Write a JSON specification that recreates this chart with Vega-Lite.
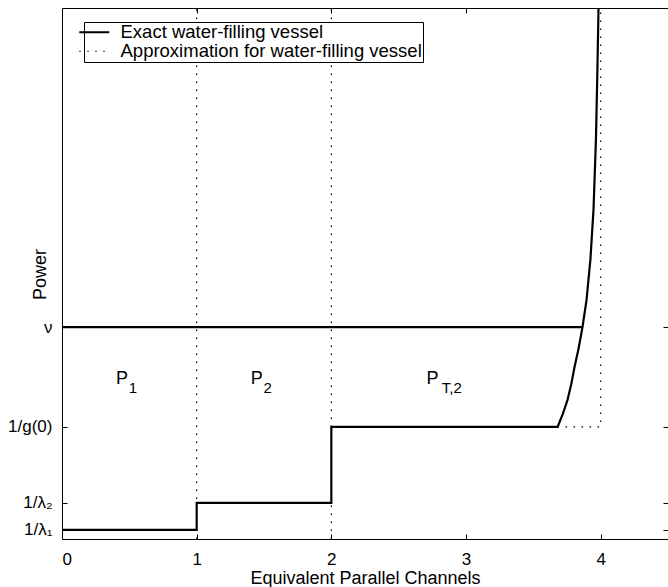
{
  "$schema": "https://vega.github.io/schema/vega-lite/v6.json",
  "width": 606,
  "height": 531,
  "autosize": {"type": "none"},
  "padding": {"left": 62, "top": 8, "right": 0, "bottom": 48},
  "background": "white",
  "config": {
    "view": {"stroke": "black", "strokeWidth": 1},
    "font": "Liberation Sans",
    "axis": {"labelColor": "black", "titleColor": "black", "domainColor": "black", "tickColor": "black", "labelFont": "Liberation Sans", "titleFont": "Liberation Sans", "grid": false}
  },
  "datasets": {
    "lines": [
      {"series": "Approximation for water-filling vessel", "seg": "v1", "i": 0, "x": 1, "y": 0},
      {"series": "Approximation for water-filling vessel", "seg": "v1", "i": 1, "x": 1, "y": 10},
      {"series": "Approximation for water-filling vessel", "seg": "v2", "i": 0, "x": 2, "y": 0},
      {"series": "Approximation for water-filling vessel", "seg": "v2", "i": 1, "x": 2, "y": 10},
      {"series": "Approximation for water-filling vessel", "seg": "v4", "i": 0, "x": 3.68, "y": 2.11},
      {"series": "Approximation for water-filling vessel", "seg": "v4", "i": 1, "x": 4, "y": 2.11},
      {"series": "Approximation for water-filling vessel", "seg": "v4", "i": 2, "x": 4, "y": 10},
      {"series": "Exact water-filling vessel", "seg": "stair", "i": 0, "x": 0, "y": 0.17},
      {"series": "Exact water-filling vessel", "seg": "stair", "i": 1, "x": 1, "y": 0.17},
      {"series": "Exact water-filling vessel", "seg": "stair", "i": 2, "x": 1, "y": 0.68},
      {"series": "Exact water-filling vessel", "seg": "stair", "i": 3, "x": 2, "y": 0.68},
      {"series": "Exact water-filling vessel", "seg": "stair", "i": 4, "x": 2, "y": 2.11},
      {"series": "Exact water-filling vessel", "seg": "stair", "i": 5, "x": 3.68, "y": 2.11},
      {"series": "Exact water-filling vessel", "seg": "stair", "i": 6, "x": 3.718, "y": 2.35},
      {"series": "Exact water-filling vessel", "seg": "stair", "i": 7, "x": 3.754, "y": 2.62},
      {"series": "Exact water-filling vessel", "seg": "stair", "i": 8, "x": 3.782, "y": 2.92},
      {"series": "Exact water-filling vessel", "seg": "stair", "i": 9, "x": 3.806, "y": 3.24},
      {"series": "Exact water-filling vessel", "seg": "stair", "i": 10, "x": 3.837, "y": 3.6},
      {"series": "Exact water-filling vessel", "seg": "stair", "i": 11, "x": 3.865, "y": 3.99},
      {"series": "Exact water-filling vessel", "seg": "stair", "i": 12, "x": 3.895, "y": 4.5},
      {"series": "Exact water-filling vessel", "seg": "stair", "i": 13, "x": 3.924, "y": 5.27},
      {"series": "Exact water-filling vessel", "seg": "stair", "i": 14, "x": 3.947, "y": 6.21},
      {"series": "Exact water-filling vessel", "seg": "stair", "i": 15, "x": 3.965, "y": 7.53},
      {"series": "Exact water-filling vessel", "seg": "stair", "i": 16, "x": 3.976, "y": 8.85},
      {"series": "Exact water-filling vessel", "seg": "stair", "i": 17, "x": 3.984, "y": 10.0},
      {"series": "Exact water-filling vessel", "seg": "nu", "i": 0, "x": 0, "y": 3.99},
      {"series": "Exact water-filling vessel", "seg": "nu", "i": 1, "x": 3.865, "y": 3.99}
    ],
    "labels": [
      {"part": "main", "text": "P", "x": 0.445, "y": 3.01},
      {"part": "sub", "text": "1", "x": 0.527, "y": 2.84},
      {"part": "main", "text": "P", "x": 1.447, "y": 3.01},
      {"part": "sub", "text": "2", "x": 1.528, "y": 2.84},
      {"part": "main", "text": "P", "x": 2.752, "y": 3.01},
      {"part": "sub", "text": "T,2", "x": 2.895, "y": 2.84}
    ]
  },
  "resolve": {"axis": {"x": "independent", "y": "independent"}},
  "layer": [
    {
      "data": {"name": "lines"},
      "mark": {"type": "line", "color": "black", "clip": true},
      "encoding": {
        "x": {"field": "x", "type": "quantitative", "scale": {"domain": [0, 4.5], "nice": false, "zero": false},
          "axis": {"orient": "bottom", "values": [0, 1, 2, 3, 4], "title": "Equivalent Parallel Channels", "labelFontSize": 17, "titleFontSize": 18, "titleFontWeight": "normal", "tickSize": -5, "labelPadding": 17, "domain": false, "titleX": 303, "titleY": 39, "titleBaseline": "middle", "titleAlign": "center"}},
        "y": {"field": "y", "type": "quantitative", "scale": {"domain": [0, 10], "nice": false, "zero": false},
          "axis": {"orient": "left", "values": [0.17, 0.68, 2.11, 3.99], "labelExpr": "datum.value == 0.17 ? '1/λ₁' : datum.value == 0.68 ? '1/λ₂' : datum.value == 2.11 ? '1/g(0)' : 'ν'", "title": "Power", "labelFontSize": 17, "titleFontSize": 18, "titleFontWeight": "normal", "tickSize": -5, "labelPadding": 15, "domain": false, "titleX": -22, "titleY": 266, "titleAngle": -90, "titleBaseline": "middle", "titleAlign": "center"}},
        "detail": {"field": "seg"},
        "order": {"field": "i", "type": "quantitative"},
        "strokeDash": {"field": "series", "type": "nominal",
          "scale": {"domain": ["Exact water-filling vessel", "Approximation for water-filling vessel"], "range": [[1, 0], [1.5, 6.5]]},
          "legend": {"title": null, "orient": "none", "legendX": 22, "legendY": 14, "strokeColor": "black", "fillColor": "white", "padding": 1, "labelFontSize": 18.5, "labelColor": "black", "labelLimit": 0, "symbolType": "M-2.5,0H2.5", "symbolSize": 144, "symbolStrokeColor": "black", "labelOffset": 17, "rowPadding": 0}},
        "strokeWidth": {"field": "series", "type": "nominal",
          "scale": {"domain": ["Exact water-filling vessel", "Approximation for water-filling vessel"], "range": [2.2, 1.2]},
          "legend": {"title": null, "orient": "none", "legendX": 22, "legendY": 14, "strokeColor": "black", "fillColor": "white", "padding": 1, "labelFontSize": 18.5, "labelColor": "black", "labelLimit": 0, "symbolType": "M-2.5,0H2.5", "symbolSize": 144, "symbolStrokeColor": "black", "labelOffset": 17, "rowPadding": 0}}
      }
    },
    {
      "data": {"name": "labels"},
      "transform": [{"filter": "datum.part == 'main'"}],
      "mark": {"type": "text", "fontSize": 18, "color": "black", "font": "Liberation Sans"},
      "encoding": {
        "x": {"field": "x", "type": "quantitative", "axis": {"orient": "top", "values": [1, 2, 3], "labels": false, "title": null, "tickSize": -5, "domain": false}},
        "y": {"field": "y", "type": "quantitative", "axis": {"orient": "right", "values": [0.17, 0.68, 2.11, 3.99], "labels": false, "title": null, "tickSize": -5, "domain": false}},
        "text": {"field": "text"}
      }
    },
    {
      "data": {"name": "labels"},
      "transform": [{"filter": "datum.part == 'sub'"}],
      "mark": {"type": "text", "fontSize": 15, "color": "black", "font": "Liberation Sans"},
      "encoding": {
        "x": {"field": "x", "type": "quantitative", "axis": null},
        "y": {"field": "y", "type": "quantitative", "axis": null},
        "text": {"field": "text"}
      }
    }
  ]
}
